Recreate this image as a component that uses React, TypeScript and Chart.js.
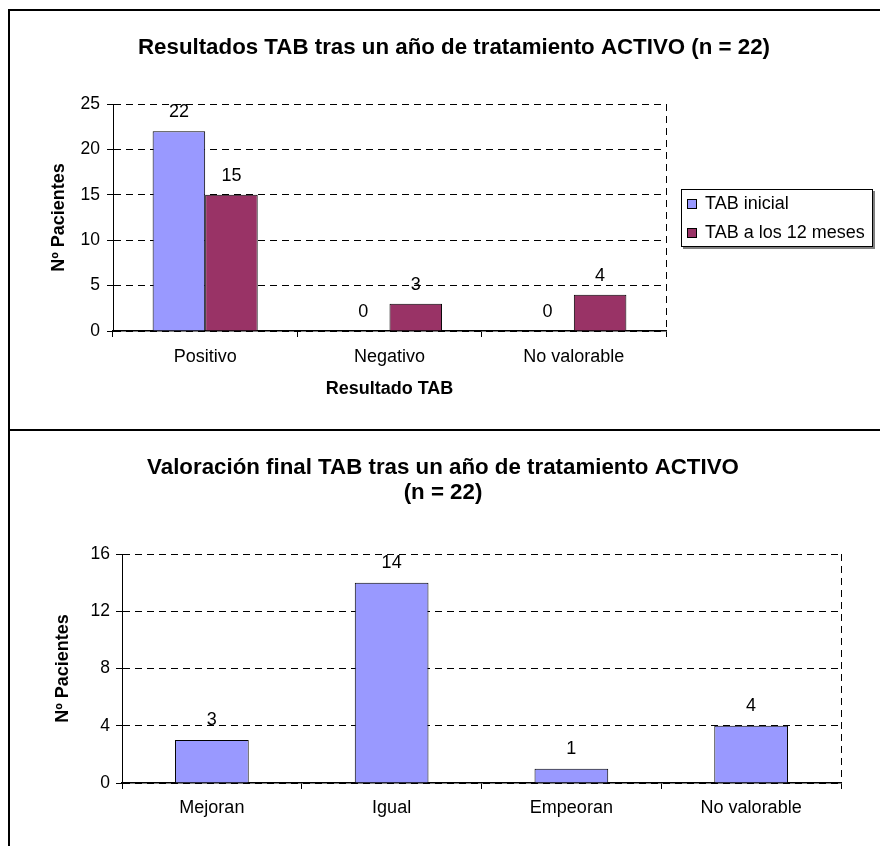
import React, { useEffect, useRef } from 'react';
import { Chart, registerables } from 'chart.js';

Chart.register(...registerables);

const FONT = 'Arial, "Liberation Sans", sans-serif';
const BLUE = '#9999FF';
const MAROON = '#993366';
const DASH = [7, 5];

// ---- Top chart data ----
const topTitle = 'Resultados TAB tras un año de tratamiento ACTIVO (n = 22)';
const topCategories = ['Positivo', 'Negativo', 'No valorable'];
const topSeriesLabels = ['TAB inicial', 'TAB a los 12 meses'];
const tabInicial = [22, 0, 0];
const tab12Meses = [15, 3, 4];
const topYMax = 25;
const topYStep = 5;

// ---- Bottom chart data ----
const bottomTitle = ['Valoración final TAB tras un año de tratamiento ACTIVO', '(n = 22)'];
const bottomCategories = ['Mejoran', 'Igual', 'Empeoran', 'No valorable'];
const bottomValues = [3, 14, 1, 4];
const bottomYMax = 16;
const bottomYStep = 4;

const yTitle = 'Nº Pacientes';
const xTitleTop = 'Resultado TAB';

const TITLE_SIZE = 22.3;

const valueLabels = {
  id: 'valueLabels',
  afterDatasetsDraw(chart: any, _args: any, opts: any) {
    const { ctx } = chart;
    ctx.save();
    ctx.font = `18px ${FONT}`;
    ctx.fillStyle = '#000';
    ctx.textAlign = 'center';
    ctx.textBaseline = 'middle';
    chart.data.datasets.forEach((ds: any, di: number) => {
      const meta = chart.getDatasetMeta(di);
      meta.data.forEach((el: any, i: number) => {
        ctx.fillText(String(ds.data[i]), el.x, el.y - (opts.offset ?? 19));
      });
    });
    ctx.restore();
  },
};

const boxLegend = {
  id: 'boxLegend',
  afterDraw(chart: any, _args: any, opts: any) {
    if (!opts || !opts.display) return;
    const { ctx, chartArea } = chart;
    const w = opts.width;
    const h = opts.height;
    const x = Math.round(chartArea.right + opts.gap);
    const y = Math.round((chartArea.top + chartArea.bottom) / 2 - h / 2);
    ctx.save();
    ctx.fillStyle = '#808080';
    ctx.fillRect(x + 2, y + 2, w, h);
    ctx.fillStyle = '#fff';
    ctx.fillRect(x, y, w, h);
    ctx.strokeStyle = '#000';
    ctx.lineWidth = 1;
    ctx.strokeRect(x + 0.5, y + 0.5, w - 1, h - 1);
    ctx.font = `18px ${FONT}`;
    ctx.textBaseline = 'middle';
    ctx.textAlign = 'left';
    chart.data.datasets.forEach((ds: any, i: number) => {
      const cy = Math.round(y + opts.firstRow + i * opts.rowGap);
      ctx.fillStyle = ds.backgroundColor;
      ctx.fillRect(x + 6, cy - 5, 10, 10);
      ctx.strokeStyle = '#000';
      ctx.strokeRect(x + 6.5, cy - 4.5, 9, 9);
      ctx.fillStyle = '#000';
      ctx.fillText(ds.label, x + 24, cy);
    });
    ctx.restore();
  },
};

function xScale(height: number, tickPad: number, title?: any) {
  return {
    offset: true,
    grid: {
      display: true,
      drawOnChartArea: true,
      offset: true,
      // only the closing grid line (right edge of the plot area) is visible
      color: (c: any) => (c.type === 'tick' ? 'rgba(0,0,0,0)' : '#000'),
      tickColor: '#000',
      tickLength: 6,
      lineWidth: 1,
    },
    border: { display: true, color: '#000', width: 1.5, dash: DASH },
    ticks: {
      color: '#000',
      font: { size: 18, family: FONT },
      padding: tickPad,
      maxRotation: 0,
      autoSkip: false,
    },
    title: title || { display: false },
    afterFit: (s: any) => {
      s.height = height;
    },
  };
}

function yScale(max: number, step: number, width: number, titlePad: number, tickPad: number) {
  return {
    min: 0,
    max,
    ticks: { stepSize: step, color: '#000', font: { size: 17.5, family: FONT }, padding: tickPad },
    grid: { color: '#000', tickColor: '#000', tickLength: 6, lineWidth: 1 },
    border: { display: true, color: '#000', width: 1, dash: DASH },
    title: {
      display: true,
      text: yTitle,
      color: '#000',
      font: { size: 18, weight: 'bold', family: FONT, lineHeight: 1.2 },
      padding: { top: titlePad, bottom: 0 },
    },
    afterFit: (s: any) => {
      s.width = width;
    },
  };
}

function spacer(width: number) {
  return {
    position: 'right',
    display: true,
    grid: { display: false, drawTicks: false },
    border: { display: false },
    ticks: { display: false },
    afterFit: (s: any) => {
      s.width = width;
    },
  };
}

export default function App() {
  const topRef = useRef<HTMLCanvasElement>(null);
  const botRef = useRef<HTMLCanvasElement>(null);

  useEffect(() => {
    document.body.style.overflow = 'hidden';
    Chart.defaults.font.family = FONT;
    Chart.defaults.color = '#000';

    const c1 = new Chart(topRef.current as HTMLCanvasElement, {
      type: 'bar',
      data: {
        labels: topCategories,
        datasets: [
          {
            label: topSeriesLabels[0],
            data: tabInicial,
            backgroundColor: BLUE,
            borderColor: '#000',
            borderWidth: 1,
            categoryPercentage: 0.57,
            barPercentage: 1,
          },
          {
            label: topSeriesLabels[1],
            data: tab12Meses,
            backgroundColor: MAROON,
            borderColor: '#000',
            borderWidth: 1,
            categoryPercentage: 0.57,
            barPercentage: 1,
          },
        ],
      },
      options: {
        animation: false,
        responsive: false,
        layout: { padding: { left: 20, right: 10, top: 0, bottom: 10 } },
        plugins: {
          legend: { display: false },
          tooltip: { enabled: false },
          title: {
            display: true,
            text: topTitle,
            color: '#000',
            font: { size: TITLE_SIZE, weight: 'bold', family: FONT, lineHeight: 1.2 },
            padding: { top: 36.5 - (TITLE_SIZE * 1.2) / 2, bottom: 93 - 36.5 - (TITLE_SIZE * 1.2) / 2 },
          },
          valueLabels: { offset: 19 },
          boxLegend: { display: true, gap: 15, width: 192, height: 58, firstRow: 15, rowGap: 29 },
        } as any,
        scales: {
          x: xScale(88, 9.2, {
            display: true,
            text: xTitleTop,
            color: '#000',
            font: { size: 18, weight: 'bold', family: FONT, lineHeight: 1.2 },
            padding: { top: 0, bottom: 18.7 },
          }),
          y: yScale(topYMax, topYStep, 83, 18.7, 7),
          y2: spacer(212),
        } as any,
      },
      plugins: [valueLabels, boxLegend],
    } as any);

    const c2 = new Chart(botRef.current as HTMLCanvasElement, {
      type: 'bar',
      data: {
        labels: bottomCategories,
        datasets: [
          {
            label: 'Valoración final',
            data: bottomValues,
            backgroundColor: BLUE,
            borderColor: '#000',
            borderWidth: 1,
            categoryPercentage: 0.41,
            barPercentage: 1,
          },
        ],
      },
      options: {
        animation: false,
        responsive: false,
        layout: { padding: { left: 10, right: 22, top: 0, bottom: 10 } },
        plugins: {
          legend: { display: false },
          tooltip: { enabled: false },
          title: {
            display: true,
            text: bottomTitle,
            color: '#000',
            font: { size: TITLE_SIZE, weight: 'bold', family: FONT, lineHeight: 25 / TITLE_SIZE },
            padding: { top: 24, bottom: 49 },
          },
          valueLabels: { offset: 20 },
        } as any,
        scales: {
          x: xScale(53, 8.2),
          y: yScale(bottomYMax, bottomYStep, 102, 32.2, 6),
          y2: spacer(25),
        } as any,
      },
      plugins: [valueLabels],
    } as any);

    return () => {
      c1.destroy();
      c2.destroy();
    };
  }, []);

  return (
    <div style={{ position: 'relative', width: 880, height: 838 }}>
      <div style={{ position: 'absolute', left: 0, top: 1, width: 2, height: 837, background: '#000' }} />
      <div style={{ position: 'absolute', left: 0, top: 1, width: 880, height: 2, background: '#000' }} />
      <div style={{ position: 'absolute', left: 0, top: 421, width: 880, height: 2, background: '#000' }} />
      <canvas
        ref={topRef}
        width={878}
        height={418}
        style={{ position: 'absolute', left: 2, top: 3, display: 'block' }}
      />
      <canvas
        ref={botRef}
        width={878}
        height={415}
        style={{ position: 'absolute', left: 2, top: 423, display: 'block' }}
      />
    </div>
  );
}
